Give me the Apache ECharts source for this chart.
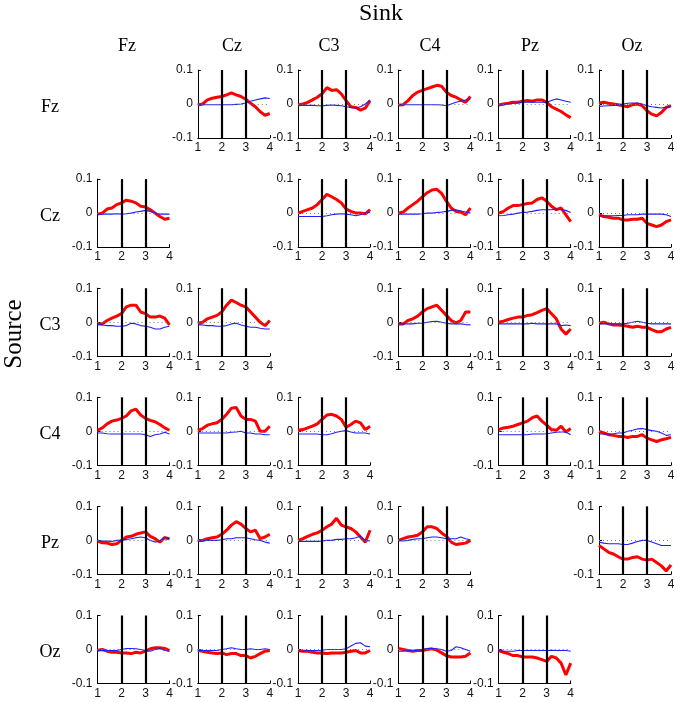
<!DOCTYPE html>
<html>
<head>
<meta charset="utf-8">
<script src="https://cdn.jsdelivr.net/npm/echarts@6/dist/echarts.min.js"></script>
<style>
html,body{margin:0;padding:0;background:#fff;}
#c{width:680px;height:702px;}
</style>
</head>
<body>
<div id="c"></div>
<script>
// ---- data ----
const CHANNELS = ['Fz','Cz','C3','C4','Pz','Oz'];
const XS = [1.0,1.2,1.4,1.6,1.8,2.0,2.2,2.4,2.6,2.8,3.0,3.2,3.4,3.6,3.8,4.0];
const X_TICKS = [1,2,3,4];
const Y_TICKS = [-0.1,0,0.1];
const MARKERS = [2,3];

// Source Fz
const fzCzRed  = [-0.003,0.0,0.012,0.017,0.02,0.022,0.027,0.033,0.027,0.022,0.014,0.002,-0.008,-0.023,-0.033,-0.028];
const fzCzBlue = [-0.003,-0.002,-0.002,-0.002,-0.002,-0.002,-0.002,-0.002,-0.001,0.0,0.003,0.008,0.012,0.015,0.018,0.016];
const fzC3Red  = [-0.003,0.0,0.005,0.012,0.02,0.03,0.048,0.04,0.042,0.03,0.01,-0.008,-0.01,-0.018,-0.012,0.01];
const fzC3Blue = [-0.003,-0.004,-0.004,-0.004,-0.005,-0.005,-0.004,-0.003,-0.004,-0.005,-0.008,-0.01,-0.012,-0.008,0.0,0.012];
const fzC4Red  = [-0.003,-0.002,0.01,0.025,0.035,0.04,0.045,0.05,0.055,0.052,0.035,0.025,0.02,0.012,0.005,0.022];
const fzC4Blue = [-0.002,-0.002,-0.002,-0.002,-0.002,-0.002,-0.002,-0.002,-0.002,-0.003,-0.005,0.0,0.005,0.008,0.012,0.015];
const fzPzRed  = [-0.003,0.0,0.002,0.005,0.005,0.008,0.01,0.008,0.012,0.012,0.005,-0.008,-0.015,-0.022,-0.032,-0.04];
const fzPzBlue = [-0.003,-0.002,0.0,0.002,0.003,0.005,0.005,0.005,0.005,0.005,0.005,0.01,0.015,0.012,0.008,0.005];
const fzOzRed  = [0.003,0.005,0.002,0.0,-0.002,-0.005,-0.008,-0.002,0.0,-0.005,-0.02,-0.03,-0.035,-0.025,-0.01,-0.005];
const fzOzBlue = [-0.007,-0.006,-0.005,-0.004,-0.002,0.0,0.002,0.003,0.003,0.0,-0.005,-0.008,-0.01,-0.012,-0.01,-0.008];
// Source Cz
const czFzRed  = [-0.003,0.0,0.012,0.015,0.025,0.03,0.038,0.035,0.03,0.02,0.018,0.01,0.0,-0.01,-0.018,-0.015];
const czFzBlue = [-0.003,-0.003,-0.003,-0.003,-0.002,-0.003,-0.002,0.0,0.003,0.005,0.008,0.005,0.0,-0.003,-0.003,-0.003];
const czC3Red  = [0.0,0.005,0.01,0.015,0.025,0.04,0.055,0.048,0.04,0.03,0.012,0.005,0.0,0.0,-0.002,0.01];
const czC3Blue = [-0.01,-0.01,-0.01,-0.01,-0.01,-0.01,-0.008,-0.005,-0.003,-0.002,-0.003,-0.005,-0.008,-0.005,0.0,0.002];
const czC4Red  = [0.0,0.003,0.015,0.025,0.035,0.048,0.06,0.068,0.07,0.058,0.035,0.015,0.005,0.003,-0.005,0.015];
const czC4Blue = [-0.003,-0.003,-0.003,-0.003,-0.003,-0.002,0.0,0.0,0.002,0.003,0.005,0.008,0.01,0.006,0.003,0.0];
const czPzRed  = [0.0,0.005,0.015,0.022,0.022,0.025,0.028,0.03,0.04,0.045,0.035,0.02,0.01,0.015,-0.005,-0.025];
const czPzBlue = [-0.008,-0.007,-0.005,-0.003,0.0,0.002,0.003,0.005,0.008,0.01,0.01,0.01,0.012,0.01,0.008,0.002];
const czOzRed  = [-0.005,-0.01,-0.012,-0.015,-0.015,-0.02,-0.02,-0.018,-0.018,-0.015,-0.03,-0.035,-0.04,-0.035,-0.025,-0.02];
const czOzBlue = [-0.008,-0.008,-0.008,-0.008,-0.007,-0.007,-0.005,-0.005,-0.005,-0.003,-0.003,-0.003,-0.003,-0.003,-0.005,-0.01];
// Source C3
const c3FzRed  = [-0.005,-0.005,0.005,0.012,0.018,0.025,0.045,0.05,0.05,0.03,0.025,0.015,0.015,0.018,0.012,-0.008];
const c3FzBlue = [-0.005,-0.008,-0.01,-0.01,-0.012,-0.012,-0.01,-0.003,-0.005,-0.01,-0.012,-0.015,-0.02,-0.02,-0.015,-0.012];
const c3CzRed  = [-0.003,0.0,0.01,0.015,0.02,0.03,0.05,0.065,0.058,0.05,0.045,0.03,0.015,0.0,-0.01,0.005];
const c3CzBlue = [-0.008,-0.008,-0.01,-0.01,-0.012,-0.012,-0.01,-0.005,-0.003,-0.008,-0.012,-0.015,-0.015,-0.018,-0.02,-0.02];
const c3C4Red  = [-0.005,-0.005,0.005,0.01,0.018,0.03,0.04,0.045,0.05,0.035,0.02,0.005,-0.002,0.005,0.03,0.03];
const c3C4Blue = [-0.005,-0.005,-0.005,-0.005,-0.003,-0.003,0.0,0.002,0.003,0.0,-0.003,-0.005,-0.005,-0.005,-0.007,-0.008];
const c3PzRed  = [0.0,0.003,0.008,0.012,0.015,0.015,0.02,0.022,0.028,0.035,0.04,0.025,0.01,-0.02,-0.035,-0.02];
const c3PzBlue = [-0.005,-0.005,-0.005,-0.005,-0.005,-0.005,-0.005,-0.003,-0.005,-0.005,-0.005,-0.005,-0.005,-0.01,-0.008,-0.01];
const c3OzRed  = [-0.003,0.0,-0.005,-0.008,-0.008,-0.01,-0.012,-0.015,-0.012,-0.015,-0.015,-0.022,-0.028,-0.028,-0.02,-0.015];
const c3OzBlue = [-0.005,-0.005,-0.005,-0.005,-0.005,-0.005,-0.003,0.0,0.003,0.0,-0.003,-0.005,-0.005,-0.005,-0.005,-0.005];
// Source C4
const c4FzRed  = [0.003,0.01,0.022,0.03,0.033,0.038,0.045,0.06,0.065,0.048,0.038,0.032,0.028,0.02,0.01,0.003];
const c4FzBlue = [-0.005,-0.005,-0.007,-0.008,-0.008,-0.008,-0.008,-0.008,-0.008,-0.008,-0.01,-0.015,-0.01,-0.008,-0.003,-0.008];
const c4CzRed  = [0.003,0.008,0.018,0.022,0.025,0.035,0.05,0.068,0.07,0.045,0.035,0.035,0.03,0.0,0.0,0.015];
const c4CzBlue = [-0.005,-0.005,-0.005,-0.005,-0.005,-0.005,-0.005,-0.003,-0.002,0.0,-0.005,-0.005,-0.008,-0.008,-0.01,-0.01];
const c4C3Red  = [0.003,0.005,0.01,0.015,0.022,0.035,0.048,0.05,0.045,0.035,0.012,0.02,0.03,0.025,0.005,0.015];
const c4C3Blue = [-0.008,-0.008,-0.008,-0.008,-0.008,-0.01,-0.01,-0.007,-0.003,0.0,0.002,-0.002,-0.005,-0.005,-0.005,-0.008];
const c4PzRed  = [0.005,0.01,0.012,0.015,0.02,0.025,0.03,0.04,0.045,0.03,0.018,0.005,0.003,0.015,-0.002,0.008];
const c4PzBlue = [-0.01,-0.01,-0.01,-0.01,-0.01,-0.01,-0.01,-0.008,-0.008,-0.008,-0.007,-0.005,-0.003,-0.002,-0.002,-0.01];
const c4OzRed  = [0.0,-0.005,-0.01,-0.012,-0.015,-0.015,-0.018,-0.015,-0.015,-0.01,-0.02,-0.025,-0.03,-0.025,-0.022,-0.018];
const c4OzBlue = [-0.008,-0.008,-0.008,-0.007,-0.005,-0.005,0.0,0.003,0.007,0.008,0.005,0.002,0.0,-0.005,-0.012,-0.01];
// Source Pz
const pzFzRed  = [-0.002,-0.007,-0.008,-0.012,-0.01,0.0,0.01,0.012,0.018,0.022,0.025,0.012,0.005,-0.005,0.008,0.005];
const pzFzBlue = [0.0,-0.002,-0.002,-0.003,0.0,0.0,0.003,0.005,0.008,0.01,0.008,0.0,-0.005,-0.002,0.01,0.005];
const pzCzRed  = [0.0,0.0,0.005,0.008,0.01,0.018,0.03,0.045,0.055,0.048,0.035,0.025,0.03,0.005,0.01,0.018];
const pzCzBlue = [-0.002,-0.002,0.0,0.0,0.0,0.002,0.005,0.005,0.008,0.008,0.008,0.005,0.002,0.0,-0.005,-0.008];
const pzC3Red  = [0.0,0.005,0.012,0.018,0.022,0.03,0.04,0.048,0.065,0.045,0.04,0.035,0.025,0.01,-0.005,0.03];
const pzC3Blue = [-0.003,-0.003,-0.003,-0.003,-0.003,-0.002,0.0,0.0,0.003,0.003,0.005,0.005,0.008,0.012,0.0,-0.002];
const pzC4Red  = [0.0,0.005,0.01,0.012,0.015,0.025,0.04,0.04,0.035,0.022,0.012,-0.005,-0.012,-0.01,-0.008,0.0];
const pzC4Blue = [0.0,-0.002,0.0,0.003,0.005,0.005,0.008,0.01,0.01,0.008,0.005,0.005,0.005,0.01,0.005,0.002];
const pzOzRed  = [-0.015,-0.025,-0.035,-0.04,-0.048,-0.055,-0.055,-0.05,-0.048,-0.055,-0.058,-0.055,-0.065,-0.075,-0.09,-0.072];
const pzOzBlue = [-0.005,-0.008,-0.01,-0.01,-0.01,-0.012,-0.012,-0.008,-0.003,0.0,0.0,-0.005,-0.01,-0.015,-0.015,-0.015];
// Source Oz
const ozFzRed  = [-0.002,0.0,-0.005,-0.008,-0.008,-0.01,-0.01,-0.012,-0.008,-0.01,-0.005,0.002,0.005,0.005,0.003,-0.003];
const ozFzBlue = [-0.003,-0.003,-0.003,-0.003,-0.003,0.0,0.003,0.003,0.002,0.0,-0.003,-0.005,0.0,0.003,-0.003,-0.005];
const ozCzRed  = [-0.003,-0.005,-0.008,-0.01,-0.012,-0.01,-0.015,-0.012,-0.012,-0.018,-0.018,-0.025,-0.02,-0.012,-0.005,-0.003];
const ozCzBlue = [-0.003,-0.003,-0.003,-0.003,-0.003,0.0,0.002,0.005,0.002,0.0,0.0,0.002,0.0,0.0,0.002,0.0];
const ozC3Red  = [-0.003,-0.005,-0.005,-0.008,-0.01,-0.01,-0.012,-0.01,-0.01,-0.01,-0.008,-0.005,-0.003,-0.01,-0.01,-0.003];
const ozC3Blue = [-0.005,-0.005,-0.003,-0.003,-0.003,-0.002,0.0,0.0,0.0,0.0,0.002,0.01,0.018,0.02,0.01,0.008];
const ozC4Red  = [0.003,0.0,-0.003,-0.005,-0.003,-0.003,0.0,0.002,-0.002,-0.01,-0.018,-0.022,-0.022,-0.022,-0.02,-0.01];
const ozC4Blue = [-0.005,-0.005,-0.003,-0.003,-0.003,0.0,0.003,0.003,0.002,0.0,-0.005,-0.003,0.008,0.005,0.0,-0.005];
const ozPzRed  = [-0.003,-0.008,-0.012,-0.018,-0.018,-0.022,-0.022,-0.022,-0.025,-0.03,-0.035,-0.02,-0.025,-0.04,-0.075,-0.04];
const ozPzBlue = [-0.003,-0.005,-0.005,-0.005,-0.003,-0.003,-0.003,-0.003,-0.003,-0.003,-0.003,-0.002,-0.003,-0.003,-0.003,-0.005];

// lookup table built from the arrays: [source][sink] -> [red, blue]
const PANELS = {
  Fz:{Cz:[fzCzRed,fzCzBlue],C3:[fzC3Red,fzC3Blue],C4:[fzC4Red,fzC4Blue],Pz:[fzPzRed,fzPzBlue],Oz:[fzOzRed,fzOzBlue]},
  Cz:{Fz:[czFzRed,czFzBlue],C3:[czC3Red,czC3Blue],C4:[czC4Red,czC4Blue],Pz:[czPzRed,czPzBlue],Oz:[czOzRed,czOzBlue]},
  C3:{Fz:[c3FzRed,c3FzBlue],Cz:[c3CzRed,c3CzBlue],C4:[c3C4Red,c3C4Blue],Pz:[c3PzRed,c3PzBlue],Oz:[c3OzRed,c3OzBlue]},
  C4:{Fz:[c4FzRed,c4FzBlue],Cz:[c4CzRed,c4CzBlue],C3:[c4C3Red,c4C3Blue],Pz:[c4PzRed,c4PzBlue],Oz:[c4OzRed,c4OzBlue]},
  Pz:{Fz:[pzFzRed,pzFzBlue],Cz:[pzCzRed,pzCzBlue],C3:[pzC3Red,pzC3Blue],C4:[pzC4Red,pzC4Blue],Oz:[pzOzRed,pzOzBlue]},
  Oz:{Fz:[ozFzRed,ozFzBlue],Cz:[ozCzRed,ozCzBlue],C3:[ozC3Red,ozC3Blue],C4:[ozC4Red,ozC4Blue],Pz:[ozPzRed,ozPzBlue]}
};

// ---- layout ----
const GRID_LEFT0 = 97.5, GRID_DX = 100.3, GRID_W = 72;
const GRID_TOP0 = 70, GRID_DY = 109.1, GRID_H = 68;
const COL_LABEL_X = [127, 232, 329, 430, 530, 632];
const SERIF = "'Liberation Serif', 'Times New Roman', serif";
const SANS = "'Liberation Sans', Arial, sans-serif";

const grids = [], xAxes = [], yAxes = [], series = [], graphics = [];
let k = 0;
CHANNELS.forEach((src, i) => {
  CHANNELS.forEach((snk, j) => {
    if (i === j) return;
    const pair = PANELS[src][snk];
    grids.push({left: GRID_LEFT0 + GRID_DX*j, top: GRID_TOP0 + GRID_DY*i, width: GRID_W, height: GRID_H, containLabel:false});
    xAxes.push({
      type:'value', gridIndex:k, min:X_TICKS[0], max:X_TICKS[X_TICKS.length-1], interval:1,
      axisLine:{show:true, onZero:false, lineStyle:{color:'#000', width:1}},
      axisTick:{show:true, inside:true, length:3, lineStyle:{color:'#000'}},
      axisLabel:{fontSize:12, fontFamily:SANS, color:'#111', margin:4},
      splitLine:{show:false}
    });
    yAxes.push({
      type:'value', gridIndex:k, min:Y_TICKS[0], max:Y_TICKS[Y_TICKS.length-1], interval:0.1,
      axisLine:{show:true, onZero:false, lineStyle:{color:'#000', width:1}},
      axisTick:{show:true, inside:true, length:3, lineStyle:{color:'#000'}},
      axisLabel:{fontSize:12, fontFamily:SANS, color:'#111', margin:5,
        formatter: v => String(Math.round(v*10)/10)},
      splitLine:{show:false}
    });
    // zero dotted reference line
    series.push({
      type:'line', xAxisIndex:k, yAxisIndex:k, data:[], silent:true, z:1,
      markLine:{silent:true, symbol:['none','none'], animation:false, label:{show:false},
        lineStyle:{color:'#777', type:[1,3], width:1}, data:[{yAxis:0}]}
    });
    series.push({
      type:'line', xAxisIndex:k, yAxisIndex:k, showSymbol:false, z:2,
      data: XS.map((x,n)=>[x, pair[0][n]]),
      lineStyle:{color:'#ff0000', width:3}, itemStyle:{color:'#ff0000'}
    });
    series.push({
      type:'line', xAxisIndex:k, yAxisIndex:k, showSymbol:false, z:3,
      data: XS.map((x,n)=>[x, pair[1][n]]),
      lineStyle:{color:'#1f1fff', width:1.1}, itemStyle:{color:'#1f1fff'}
    });
    // vertical black markers at x=2 and x=3
    series.push({
      type:'line', xAxisIndex:k, yAxisIndex:k, data:[], silent:true, z:5,
      markLine:{silent:true, symbol:['none','none'], animation:false, label:{show:false},
        lineStyle:{color:'#000', type:'solid', width:2.2}, data:MARKERS.map(m=>({xAxis:m}))}
    });
    k++;
  });
});

graphics.push({type:'text', x:381, y:14, style:{text:'Sink', font:'24px '+SERIF, fill:'#000', textAlign:'center', textVerticalAlign:'middle', align:'center', verticalAlign:'middle'}});
CHANNELS.forEach((c, j) => {
  graphics.push({type:'text', x:COL_LABEL_X[j], y:46, style:{text:c, font:'18px '+SERIF, fill:'#000', textAlign:'center', textVerticalAlign:'middle', align:'center', verticalAlign:'middle'}});
  graphics.push({type:'text', x:50, y:GRID_TOP0 + GRID_DY*j + GRID_H/2 + 3, style:{text:c, font:'18px '+SERIF, fill:'#000', textAlign:'center', textVerticalAlign:'middle', align:'center', verticalAlign:'middle'}});
});
graphics.push({type:'text', x:14, y:334, rotation:Math.PI/2, style:{text:'Source', font:'25px '+SERIF, fill:'#000', textAlign:'center', textVerticalAlign:'middle', align:'center', verticalAlign:'middle'}});

const chart = echarts.init(document.getElementById('c'), null, {renderer:'canvas'});
chart.setOption({
  backgroundColor:'#fff',
  animation:false,
  grid:grids, xAxis:xAxes, yAxis:yAxes, series:series,
  graphic:graphics
});
</script>
</body>
</html>
